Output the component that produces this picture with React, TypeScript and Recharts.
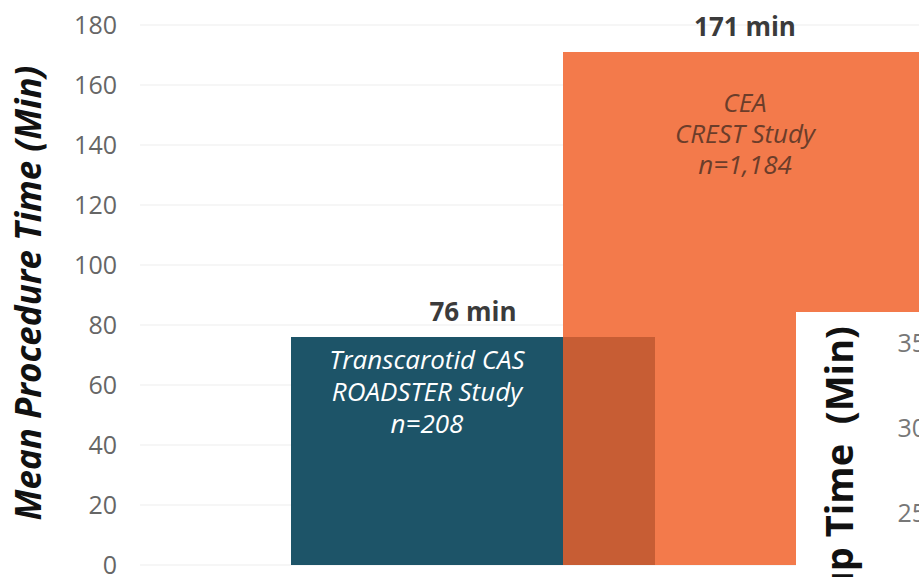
import { BarChart, Bar, XAxis, YAxis, CartesianGrid, LabelList } from "recharts"

const categories = ["Mean Procedure Time"]
const casMinutes = [76]
const ceaMinutes = [171]
const casLines = ["Transcarotid CAS", "ROADSTER Study", "n=208"]
const ceaLines = ["CEA", "CREST Study", "n=1,184"]
const yTicks = [0, 20, 40, 60, 80, 100, 120, 140, 160, 180]
const insetTicks = [0, 5, 10, 15, 20, 25, 30, 35]

const data = categories.map((name, i) => ({
  name,
  cas: casMinutes[i],
  cea: ceaMinutes[i],
}))

const TEAL = "#1d5468"
const ORANGE = "#f37a4b"
const OVERLAP = "#c75d34"
const BAR_SIZE = 364
const BAR_GAP = -92
const FONT = "'Open Sans', sans-serif"

// orange bar, with the part that sits over the teal bar drawn darker
function CeaShape(props: any) {
  const { x, y, width, height, payload } = props
  const perUnit = height / payload.cea
  const tealH = payload.cas * perUnit
  const overlap = -BAR_GAP
  return (
    <g>
      <rect x={x} y={y} width={width} height={height} fill={ORANGE} />
      <rect x={x} y={y + height - tealH} width={overlap} height={tealH} fill={OVERLAP} />
    </g>
  )
}

function valueLabel(props: any) {
  const { x, y, width, value } = props
  return (
    <text
      x={x + width / 2}
      y={y - 16}
      textAnchor="middle"
      fill="#3b3b3b"
      fontSize={26}
      fontWeight={700}
      fontFamily={FONT}
    >
      {`${value} min`}
    </text>
  )
}

function casText(props: any) {
  const { x, y, width } = props
  const cx = x + (width + BAR_GAP) / 2
  return (
    <text x={cx} textAnchor="middle" fill="#ffffff" fontSize={26} fontStyle="italic" fontFamily={FONT}>
      {casLines.map((line, i) => (
        <tspan key={i} x={cx} y={y + 32 + i * 32}>
          {line}
        </tspan>
      ))}
    </text>
  )
}

function ceaText(props: any) {
  const { x, y, width } = props
  const cx = x + width / 2
  return (
    <text x={cx} textAnchor="middle" fill="#6b3d2a" fontSize={26} fontStyle="italic" fontFamily={FONT}>
      {ceaLines.map((line, i) => (
        <tspan key={i} x={cx} y={y + 60 + i * 31}>
          {line}
        </tspan>
      ))}
    </text>
  )
}

function mainAxisLabel(props: any) {
  const { viewBox } = props
  const cx = viewBox.x + 41
  const cy = viewBox.y + viewBox.height / 2 - 2
  return (
    <text
      x={cx}
      y={cy}
      transform={`rotate(-90 ${cx} ${cy})`}
      textAnchor="middle"
      fill="#111"
      fontSize={35}
      fontWeight={700}
      fontStyle="italic"
      fontFamily={FONT}
    >
      Mean Procedure Time (Min)
    </text>
  )
}

function insetAxisLabel(props: any) {
  const { viewBox } = props
  const cx = viewBox.x + 57
  const cy = viewBox.y - 17
  return (
    <text
      x={cx}
      y={cy}
      transform={`rotate(-90 ${cx} ${cy})`}
      textAnchor="end"
      fill="#111"
      fontSize={38}
      fontWeight={700}
      fontFamily={FONT}
      style={{ whiteSpace: "pre" }}
    >
      {"Setup Time  (Min)"}
    </text>
  )
}

export default function App() {
  return (
    <div
      style={{
        position: "fixed",
        left: 0,
        top: 0,
        width: 919,
        height: 577,
        overflow: "hidden",
        background: "#fff",
        fontFamily: FONT,
      }}
    >
      <BarChart
        width={1100}
        height={577}
        data={data}
        margin={{ top: 25, right: 22, bottom: 12, left: 0 }}
        barGap={BAR_GAP}
      >
        <CartesianGrid vertical={false} stroke="#ededed" />
        <XAxis dataKey="name" hide />
        <YAxis
          width={140}
          domain={[0, 180]}
          ticks={yTicks}
          interval={0}
          axisLine={false}
          tickLine={false}
          tickMargin={17}
          tick={{ fill: "#666", fontSize: 25, fontFamily: FONT }}
          label={mainAxisLabel}
        />
        <Bar dataKey="cas" fill={TEAL} barSize={BAR_SIZE} isAnimationActive={false}>
          <LabelList dataKey="cas" content={valueLabel} />
          <LabelList dataKey="cas" content={casText} />
        </Bar>
        <Bar dataKey="cea" fill={ORANGE} barSize={BAR_SIZE} shape={CeaShape} isAnimationActive={false}>
          <LabelList dataKey="cea" content={valueLabel} />
          <LabelList dataKey="cea" content={ceaText} />
        </Bar>
      </BarChart>

      <div
        style={{
          position: "absolute",
          left: 796,
          top: 312,
          width: 200,
          height: 265,
          overflow: "hidden",
          background: "#fff",
        }}
      >
        <BarChart
          width={400}
          height={643}
          data={data}
          margin={{ top: 31, right: 10, bottom: 17, left: 0 }}
        >
          <XAxis dataKey="name" hide />
          <YAxis
            width={150}
            type="number"
            domain={[0, 35]}
            allowDataOverflow
            ticks={insetTicks}
            interval={0}
            axisLine={false}
            tickLine={false}
            tickMargin={14}
            tick={{ fill: "#777", fontSize: 25, fontFamily: FONT }}
            label={insetAxisLabel}
          />
        </BarChart>
      </div>
    </div>
  )
}
